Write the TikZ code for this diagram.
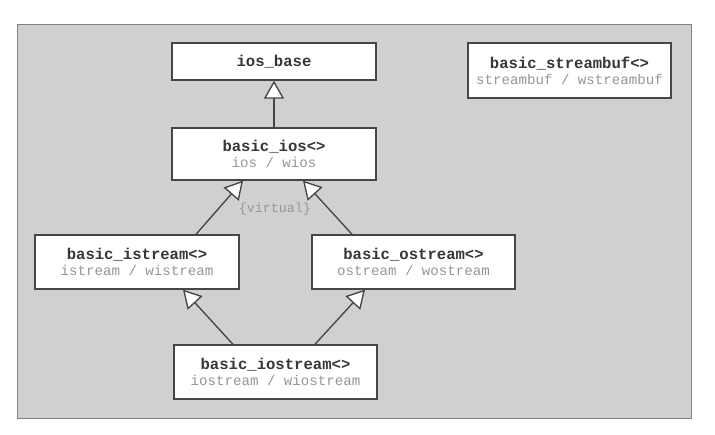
\documentclass[tikz,border=0pt]{standalone}
\usepackage{fontspec}
\setmonofont{Liberation Mono}
\usetikzlibrary{arrows.meta}
\definecolor{bgcol}{RGB}{208,208,208}
\definecolor{edgecol}{RGB}{70,70,70}
\definecolor{titlecol}{RGB}{55,55,55}
\definecolor{subcol}{RGB}{150,150,150}
\definecolor{framecol}{RGB}{130,130,130}
\tikzset{
  cls/.style={draw=edgecol, line width=1pt, fill=white, inner sep=0pt, align=center,
    font=\ttfamily\fontsize{10.6}{12}\selectfont, text=subcol},
  inh/.style={draw=edgecol, line width=1pt,
    -{Triangle[length=13.5pt, width=15pt, fill=white, line width=1pt]}},
}
\newcommand{\clsT}[1]{{\fontsize{11.7}{12}\selectfont\bfseries\color{titlecol}#1}}
\begin{document}
\begin{tikzpicture}[x=0.75pt,y=-0.75pt]
\useasboundingbox (0,0) rectangle (715,435);
\draw[draw=framecol, fill=bgcol, line width=0.6pt] (17,24) rectangle (691,418);

\node[cls, minimum width=153pt, minimum height=27.75pt] (iosbase) at (274,61.5) {\clsT{ios\_base}};
\node[cls, minimum width=153pt, minimum height=39pt] (ios) at (274,154) {\clsT{basic\_ios<>}\\ios / wios};
\node[cls, minimum width=152.25pt, minimum height=41.25pt] (sbuf) at (569.5,70.5) {\clsT{basic\_streambuf<>}\\streambuf / wstreambuf};
\node[cls, minimum width=153pt, minimum height=40.5pt] (istr) at (137,262) {\clsT{basic\_istream<>}\\istream / wistream};
\node[cls, minimum width=152.25pt, minimum height=40.5pt] (ostr) at (413.5,262) {\clsT{basic\_ostream<>}\\ostream / wostream};
\node[cls, minimum width=152.25pt, minimum height=40.5pt] (iostr) at (275.5,372) {\clsT{basic\_iostream<>}\\iostream / wiostream};

\node[font=\ttfamily\fontsize{10}{12}\selectfont, text=subcol] (virt) at (275,209) {\{virtual\}};

\draw[inh] (ios.north) -- (iosbase.south);
\draw[inh] ([xshift=44.25pt]istr.north) -- ([xshift=-23.25pt]ios.south);
\draw[inh] ([xshift=-46.1pt]ostr.north) -- ([xshift=21.75pt]ios.south);
\draw[inh] ([xshift=-31.9pt]iostr.north) -- ([xshift=34.5pt]istr.south);
\draw[inh] ([xshift=29.6pt]iostr.north) -- ([xshift=-36.4pt]ostr.south);
\end{tikzpicture}
\end{document}
